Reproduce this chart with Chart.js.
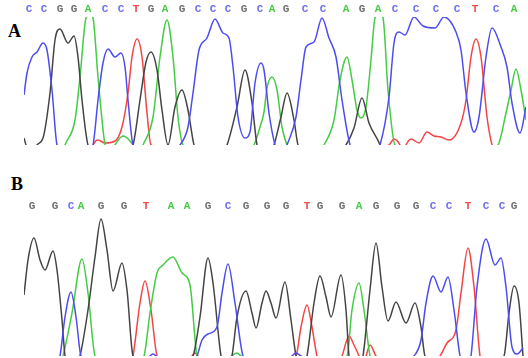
<!DOCTYPE html>
<html>
<head>
<meta charset="utf-8">
<script src="https://cdn.jsdelivr.net/npm/chart.js@4"></script>
<style>
html, body { margin: 0; padding: 0; background: #fff; }
body { position: relative; width: 528px; height: 358px; overflow: hidden; }
canvas { position: absolute; left: 0; }
#chartA { top: 0; }
#chartB { top: 180px; }
.panel { position: absolute; font: bold 18px "Liberation Serif", serif; color: #000; line-height: 18px; }
</style>
</head>
<body>
<div class="panel" style="left:8px;top:22px">A</div>
<div class="panel" style="left:11px;top:175px">B</div>
<canvas id="chartA" width="528" height="160"></canvas>
<canvas id="chartB" width="528" height="178"></canvas>
<script>
'use strict';

// called bases and the scan where each one sits
const basesA = ['C','C','G','G','A','C','C','T','G','A','G','C','C','C','G','C','A','G','C','C','A','G','A','C','C','C','C','T','C','A'];
const baseScansA = [29,44,60,74,88,105,121,136,151,165,182,198,213,228,244,260,272,286,305,323,346,362,378,395,416,436,457,475,496,514];
const basesB = ['G','G','C','A','G','G','T','A','A','G','C','G','G','G','T','G','G','A','G','G','G','C','C','T','C','C','G'];
const baseScansB = [32,55,71,81,101,124,146,171,187,208,228,246,267,286,307,320,342,359,376,397,416,433,449,468,486,502,514];

// traces, [scan, signal]
const blueA = [[24,50],[27,72],[32,88],[37,93],[43,102],[47,95],[52,55],[57,0],[75,-25],[93,0],[98,45],[103,82],[108,96],[115,88],[121,92],[125,78],[128,45],[133,0],[156,-25],[180,0],[188,18],[193,52],[199,95],[207,107],[215,126],[223,112],[229,107],[233,78],[238,28],[245,7],[250,13],[255,62],[261,82],[264,75],[269,32],[275,0],[281,-15],[287,0],[296,28],[301,65],[306,98],[314,103],[322,127],[329,107],[336,88],[342,45],[350,0],[365,-25],[380,0],[389,48],[394,102],[399,113],[405,110],[414,128],[423,119],[435,117],[444,128],[456,113],[461,95],[466,52],[474,13],[479,28],[486,88],[492,117],[501,98],[507,78],[512,42],[520,12],[526,38]];
const blackA = [[24,7],[26,0],[31,-15],[37,0],[43,7],[50,52],[55,105],[60,116],[68,102],[74,109],[78,88],[82,45],[88,0],[110,-25],[133,0],[140,45],[146,83],[151,93],[157,75],[162,35],[168,0],[175,38],[182,55],[188,35],[194,0],[210,-25],[227,0],[237,38],[245,75],[252,42],[257,0],[265,-15],[274,0],[281,28],[287,52],[294,25],[298,0],[322,-25],[346,0],[354,17],[362,47],[369,22],[380,0],[386,-20]];
const greenA = [[60,-15],[65,0],[75,25],[80,68],[86,127],[90,131],[93,127],[98,68],[105,0],[110,-10],[115,0],[123,9],[133,0],[138,-10],[143,0],[153,28],[160,88],[167,125],[173,88],[178,28],[183,0],[218,-25],[254,0],[260,18],[264,33],[267,57],[272,68],[277,55],[282,18],[287,0],[305,-25],[324,0],[334,25],[340,65],[347,88],[352,65],[357,35],[361,27],[366,38],[371,85],[375,127],[379,131],[383,127],[388,55],[395,0],[446,-25],[498,0],[506,32],[511,55],[516,76],[521,55],[526,25]];
const redA = [[88,-15],[93,0],[98,5],[105,2],[115,4],[122,18],[128,52],[132,88],[137,106],[142,88],[147,32],[151,0],[270,-25],[389,0],[394,6],[400,0],[403,-8],[406,0],[411,6],[419,2],[427,13],[434,9],[441,8],[449,5],[461,22],[466,45],[471,88],[476,106],[481,88],[487,28],[492,0],[500,-20]];

const blackB = [[24,61],[28,96],[34,118],[40,96],[45,86],[53,105],[57,86],[62,36],[65,0],[72,-20],[80,0],[88,46],[95,99],[101,137],[107,106],[113,65],[122,93],[127,66],[133,0],[163,-25],[193,0],[200,39],[208,98],[213,73],[221,0],[226,-15],[232,0],[237,39],[246,65],[252,43],[256,28],[262,53],[266,65],[271,53],[276,38],[285,74],[291,36],[296,0],[301,-15],[307,0],[314,53],[320,80],[326,59],[331,39],[341,81],[346,46],[349,0],[356,-20],[363,0],[370,66],[376,113],[382,69],[388,35],[396,54],[406,33],[415,53],[421,29],[425,0],[465,-25],[504,0],[509,43],[514,70],[519,53],[523,0]];
const blueB = [[55,-15],[60,0],[65,39],[71,64],[76,39],[81,0],[115,-25],[150,0],[153,2],[156,0],[176,-25],[197,0],[202,16],[208,22],[217,29],[222,63],[228,92],[235,53],[243,0],[268,-25],[292,0],[296,3],[301,0],[357,-25],[414,0],[421,16],[426,53],[433,80],[441,64],[448,79],[454,46],[460,0],[465,-15],[471,0],[477,69],[486,117],[495,91],[501,98],[506,69],[512,9],[517,2],[523,8]];
const greenB = [[58,-15],[63,0],[72,43],[82,97],[88,63],[95,0],[120,-25],[144,0],[150,43],[157,83],[163,91],[173,99],[182,83],[190,71],[197,0],[215,-25],[232,0],[237,3],[241,0],[294,-25],[347,0],[352,46],[359,73],[364,46],[370,0],[376,-15]];
const redB = [[128,-15],[133,0],[140,53],[145,75],[151,46],[157,0],[175,-20],[192,0],[195,3],[198,0],[247,-25],[296,0],[301,29],[307,51],[312,29],[317,0],[330,-20],[342,0],[349,20],[354,11],[359,0],[362,-8],[366,0],[370,11],[376,0],[408,-25],[440,0],[447,13],[456,26],[461,63],[468,108],[474,69],[480,0],[486,-15]];

const baseColors = { A: '#45c845', C: '#6f6ff2', G: '#707070', T: '#f24a4a' };

const hacerTraza = (datos, color) => ({
    data: datos.map(p => ({ x: p[0], y: p[1] })),
    borderColor: color,
    borderWidth: 1.5,
    pointRadius: 0,
    cubicInterpolationMode: 'monotone',
    fill: false
});

const dibujarPanel = (id, bases, scans, trazas, maxSignal, altoEje, paddingTicks) => {
    new Chart(document.getElementById(id), {
        type: 'line',
        data: {
            datasets: [
                hacerTraza(trazas[0], '#4c4cf0'),
                hacerTraza(trazas[1], '#444444'),
                hacerTraza(trazas[2], '#44cc44'),
                hacerTraza(trazas[3], '#f44444')
            ]
        },
        options: {
            responsive: false,
            animation: false,
            layout: { padding: { left: 24, right: 2, top: 0, bottom: document.getElementById(id).height - altoEje - maxSignal } },
            plugins: { legend: { display: false }, tooltip: { enabled: false } },
            scales: {
                x: {
                    type: 'linear',
                    position: 'top',
                    min: 24,
                    max: 526,
                    border: { display: false },
                    grid: { display: false, drawTicks: false },
                    afterBuildTicks: (escala) => { escala.ticks = scans.map(v => ({ value: v })); },
                    afterFit: (escala) => { escala.height = altoEje; },
                    ticks: {
                        autoSkip: false,
                        maxRotation: 0,
                        padding: paddingTicks,
                        font: { family: 'Liberation Mono', size: 11, weight: 'bold' },
                        color: (ctx) => baseColors[bases[ctx.index]],
                        callback: (valor, i) => bases[i]
                    }
                },
                y: { display: false, min: 0, max: maxSignal }
            }
        }
    });
};

dibujarPanel('chartA', basesA, baseScansA, [blueA, blackA, greenA, redA], 128, 17, 1);
dibujarPanel('chartB', basesB, baseScansB, [blueB, blackB, greenB, redB], 140, 36, 3);
</script>
</body>
</html>
